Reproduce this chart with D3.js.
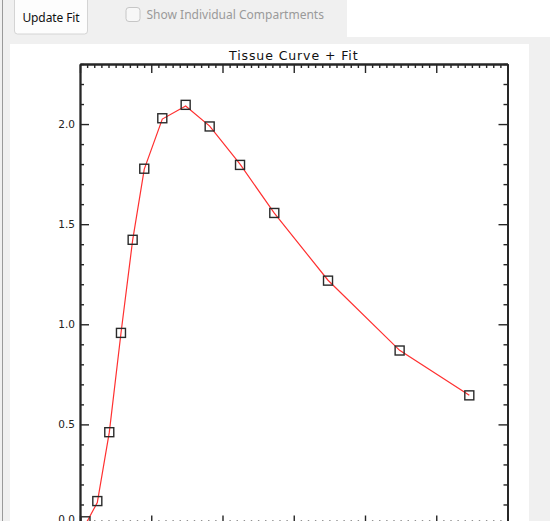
<!DOCTYPE html>
<html>
<head>
<meta charset="utf-8">
<script src="https://cdn.jsdelivr.net/npm/d3@7"></script>
<style>
  html, body { margin: 0; padding: 0; background: #ffffff; }
  svg { display: block; }
</style>
</head>
<body>
<svg id="chart" width="550" height="521"></svg>
<script>
// Frame mid-times (min) and measured tissue activity
const times = [0.77, 2.43, 4.11, 5.75, 7.39, 9.02, 11.55, 14.83, 18.2, 22.46, 27.27, 34.81, 44.86, 54.64];
const tissue = [0.016, 0.117, 0.461, 0.957, 1.422, 1.777, 2.029, 2.096, 1.988, 1.796, 1.556, 1.218, 0.869, 0.645];
// Model fit evaluated at the same frame times
const fit = [0.0, 0.11, 0.46, 0.955, 1.42, 1.775, 2.025, 2.09, 1.99, 1.8, 1.555, 1.22, 0.87, 0.645];
const yTickLabels = ["0.0", "0.5", "1.0", "1.5", "2.0"];
const xDomain = [0, 60];
const yDomain = [0, 2.3];

const svg = d3.select("#chart");

// ---- window chrome -------------------------------------------------------
svg.append("rect").attr("x", 0).attr("y", 0).attr("width", 550).attr("height", 521).attr("fill", "#ffffff");
svg.append("rect").attr("x", 0).attr("y", 0).attr("width", 347).attr("height", 44).attr("fill", "#f0f0f0");
svg.append("rect").attr("x", 0).attr("y", 37).attr("width", 550).attr("height", 7).attr("fill", "#f0f0f0");
svg.append("rect").attr("x", 0).attr("y", 37).attr("width", 10).attr("height", 484).attr("fill", "#f0f0f0");
svg.append("rect").attr("x", 529).attr("y", 37).attr("width", 21).attr("height", 484).attr("fill", "#f0f0f0");
svg.append("line").attr("x1", 2.5).attr("x2", 2.5).attr("y1", 0).attr("y2", 521)
  .attr("stroke", "#9a9a9a").attr("stroke-width", 1);

// "Update Fit" button
svg.append("rect").attr("x", 14.5).attr("y", -3).attr("width", 73).attr("height", 37).attr("rx", 3)
  .attr("fill", "#fdfdfd").attr("stroke", "#d4d4d4");
svg.append("text").attr("x", 51).attr("y", 21.5).attr("text-anchor", "middle")
  .attr("font-family", "'Noto Sans', sans-serif").attr("font-size", 12).attr("letter-spacing", -0.1)
  .attr("fill", "#111").text("Update Fit");

// Disabled checkbox
svg.append("rect").attr("x", 126).attr("y", 7.5).attr("width", 14).attr("height", 14).attr("rx", 3)
  .attr("fill", "#f7f7f7").attr("stroke", "#c6c6c6");
svg.append("text").attr("x", 146.5).attr("y", 18.5)
  .attr("font-family", "'Noto Sans', sans-serif").attr("font-size", 12).attr("letter-spacing", 0)
  .attr("fill", "#9a9a9a").text("Show Individual Compartments");

// ---- plot ------------------------------------------------------------------
const plotLeft = 80, plotRight = 507.5, plotTop = 64, plotBottom = 524.5;
const x = d3.scaleLinear().domain(xDomain).range([plotLeft, plotRight]);
const y = d3.scaleLinear().domain(yDomain).range([plotBottom, plotTop]);

const axisColor = "#262626";
function styleAxis(g) {
  g.select(".domain").attr("stroke", axisColor).attr("stroke-width", 1.8);
  g.selectAll(".tick line").attr("stroke", axisColor).attr("stroke-width", 1.4);
  g.selectAll(".tick text").attr("fill", "#222")
    .attr("font-family", "'DejaVu Sans', sans-serif").attr("font-size", 10.5);
}

const xMajor = d3.range(0, 60.001, 10);
const xMinor = d3.range(0, 60.001, 1).filter(v => v % 10 !== 0);
const yMajor = d3.range(0, 2.3001, 0.5);
const yMinor = d3.range(0, 2.3001, 0.1).filter(v => Math.abs(v / 0.5 - Math.round(v / 0.5)) > 1e-6);

// minor ticks
svg.append("g").attr("transform", `translate(0,${plotTop})`)
  .call(d3.axisBottom(x).tickValues(xMinor).tickSizeInner(4).tickSizeOuter(0).tickFormat(""))
  .call(styleAxis);
svg.append("g").attr("transform", `translate(0,${plotBottom})`)
  .call(d3.axisTop(x).tickValues(xMinor).tickSizeInner(4).tickSizeOuter(0).tickFormat(""))
  .call(styleAxis);
svg.append("g").attr("transform", `translate(${plotLeft},0)`)
  .call(d3.axisRight(y).tickValues(yMinor).tickSizeInner(4).tickSizeOuter(0).tickFormat(""))
  .call(styleAxis);
svg.append("g").attr("transform", `translate(${plotRight},0)`)
  .call(d3.axisLeft(y).tickValues(yMinor).tickSizeInner(4).tickSizeOuter(0).tickFormat(""))
  .call(styleAxis);

// major ticks and labels
svg.append("g").attr("transform", `translate(0,${plotTop})`)
  .call(d3.axisBottom(x).tickValues(xMajor).tickSizeInner(9).tickSizeOuter(0).tickFormat(""))
  .call(styleAxis);
svg.append("g").attr("transform", `translate(0,${plotBottom})`)
  .call(d3.axisTop(x).tickValues(xMajor).tickSizeInner(9).tickSizeOuter(0).tickFormat(""))
  .call(styleAxis);
const yAxisG = svg.append("g").attr("transform", `translate(${plotLeft},0)`)
  .call(d3.axisLeft(y).tickValues(yMajor).tickSizeInner(-9).tickSizeOuter(0).tickPadding(5)
    .tickFormat((d, i) => yTickLabels[i]))
  .call(styleAxis);
// the lowest label sits just above the window's lower edge
yAxisG.selectAll(".tick text").filter(d => d === 0).attr("dy", "-0.2em");
svg.append("g").attr("transform", `translate(${plotRight},0)`)
  .call(d3.axisRight(y).tickValues(yMajor).tickSizeInner(-9).tickSizeOuter(0).tickFormat(""))
  .call(styleAxis);

// title
svg.append("text").attr("x", (plotLeft + plotRight) / 2).attr("y", 59.5).attr("text-anchor", "middle")
  .attr("font-family", "'DejaVu Sans', sans-serif").attr("font-size", 12.5).attr("letter-spacing", 0.9)
  .attr("fill", "#111").text("Tissue  Curve  +  Fit");

// fit curve
const line = d3.line().x((d, i) => x(times[i])).y(d => y(d));
svg.append("path").datum(fit).attr("d", line)
  .attr("fill", "none").attr("stroke", "#ff3030").attr("stroke-width", 1.2);

// measured points
const s = 9;
svg.append("g").selectAll("rect").data(tissue).join("rect")
  .attr("x", (d, i) => x(times[i]) - s / 2)
  .attr("y", d => y(d) - s / 2)
  .attr("width", s).attr("height", s)
  .attr("fill", "none").attr("stroke", "#2a2a2a").attr("stroke-width", 1.4);
</script>
</body>
</html>
